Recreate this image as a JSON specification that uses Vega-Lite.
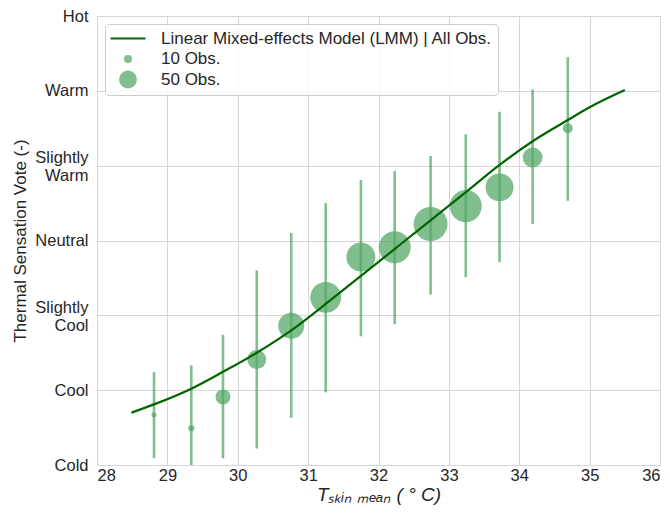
{
  "$schema": "https://vega.github.io/schema/vega-lite/v6.json",
  "width": 563,
  "height": 449,
  "autosize": "none",
  "padding": {"left": 97, "top": 16, "right": 10, "bottom": 50},
  "background": "white",
  "config": {
    "font": "Liberation Sans",
    "view": {"stroke": "#cccccc", "strokeWidth": 1},
    "axis": {
      "grid": true,
      "gridColor": "#d6d6d6",
      "gridWidth": 1,
      "domain": false,
      "ticks": false,
      "labelFont": "Liberation Sans",
      "labelFontSize": 16.5,
      "labelColor": "#262626",
      "titleFont": "Liberation Sans",
      "titleFontSize": 17,
      "titleFontWeight": "normal",
      "titleColor": "#262626"
    }
  },
  "datasets": {
    "obs": [
      {"t": 28.81, "tsv": -2.33, "lo": -2.91, "hi": -1.76, "n": 4},
      {"t": 29.34, "tsv": -2.51, "lo": -3.0, "hi": -1.67, "n": 6},
      {"t": 29.79, "tsv": -2.09, "lo": -2.91, "hi": -1.26, "n": 35},
      {"t": 30.27, "tsv": -1.59, "lo": -2.78, "hi": -0.4, "n": 56},
      {"t": 30.76, "tsv": -1.14, "lo": -2.37, "hi": 0.1, "n": 106},
      {"t": 31.25, "tsv": -0.76, "lo": -2.03, "hi": 0.5, "n": 150},
      {"t": 31.75, "tsv": -0.22, "lo": -1.28, "hi": 0.81, "n": 131},
      {"t": 32.23, "tsv": -0.09, "lo": -1.12, "hi": 0.93, "n": 160},
      {"t": 32.74, "tsv": 0.22, "lo": -0.72, "hi": 1.13, "n": 180},
      {"t": 33.24, "tsv": 0.46, "lo": -0.49, "hi": 1.42, "n": 160},
      {"t": 33.72, "tsv": 0.71, "lo": -0.29, "hi": 1.72, "n": 122},
      {"t": 34.19, "tsv": 1.11, "lo": 0.22, "hi": 2.02, "n": 62},
      {"t": 34.69, "tsv": 1.5, "lo": 0.53, "hi": 2.45, "n": 16}
    ],
    "lmm": [
      {"t": 28.49, "tsv": -2.3},
      {"t": 28.81, "tsv": -2.19},
      {"t": 29.34, "tsv": -1.98},
      {"t": 29.79, "tsv": -1.755},
      {"t": 30.27, "tsv": -1.5},
      {"t": 30.76, "tsv": -1.2},
      {"t": 31.38, "tsv": -0.75},
      {"t": 32.05, "tsv": -0.25},
      {"t": 32.3, "tsv": -0.06},
      {"t": 32.74, "tsv": 0.27},
      {"t": 33.26, "tsv": 0.66},
      {"t": 33.72, "tsv": 1.01},
      {"t": 34.18, "tsv": 1.32},
      {"t": 34.69, "tsv": 1.61},
      {"t": 35.0, "tsv": 1.78},
      {"t": 35.5, "tsv": 2.01}
    ]
  },
  "encoding": {
    "x": {
      "field": "t",
      "type": "quantitative",
      "scale": {"domain": [28, 36], "nice": false},
      "axis": {
        "values": [28, 29, 30, 31, 32, 33, 34, 35, 36],
        "labelPadding": 2,
        "title": "Tₛₖᵢₙ ₘₑₐₙ ( ° C)",
        "titleFontStyle": "italic",
        "titleFontSize": 19,
        "titlePadding": 2
      }
    },
    "y": {
      "field": "tsv",
      "type": "quantitative",
      "scale": {"domain": [-3, 3], "nice": false},
      "axis": {
        "values": [-3, -2, -1, 0, 1, 2, 3],
        "labelPadding": 9,
        "labelLineHeight": 18,
        "labelOffset": {"condition": {"test": "datum.value == 1 || datum.value == -1", "value": -8}, "value": 0},
        "labelExpr": "datum.value == 3 ? 'Hot' : datum.value == 2 ? 'Warm' : datum.value == 1 ? ['Slightly', 'Warm'] : datum.value == 0 ? 'Neutral' : datum.value == -1 ? ['Slightly', 'Cool'] : datum.value == -2 ? 'Cool' : 'Cold'",
        "title": "Thermal Sensation Vote (-)",
        "titlePadding": 5
      }
    }
  },
  "layer": [
    {
      "data": {"name": "obs"},
      "mark": {"type": "rule", "color": "#55a868", "opacity": 0.75, "strokeWidth": 2.6},
      "encoding": {
        "y": {"field": "lo", "type": "quantitative"},
        "y2": {"field": "hi"}
      }
    },
    {
      "data": {"name": "obs"},
      "mark": {"type": "circle", "color": "#55a868", "opacity": 0.75},
      "encoding": {
        "size": {
          "field": "n",
          "type": "quantitative",
          "scale": {"domain": [0, 100], "range": [0, 640], "zero": true},
          "legend": null
        }
      }
    },
    {
      "data": {"name": "lmm"},
      "mark": {"type": "line", "strokeWidth": 2.2, "interpolate": "monotone"},
      "encoding": {
        "color": {
          "datum": "Linear Mixed-effects Model (LMM) | All Obs.",
          "type": "nominal",
          "scale": {
            "domain": ["Linear Mixed-effects Model (LMM) | All Obs.", "10 Obs.", "50 Obs."],
            "range": ["#006400", "#55a868", "#55a868"]
          },
          "legend": {
            "title": null,
            "orient": "none",
            "legendX": 8,
            "legendY": 8,
            "padding": 6,
            "fillColor": "rgba(255,255,255,0.85)",
            "strokeColor": "#cccccc",
            "cornerRadius": 4,
            "labelFont": "Liberation Sans",
            "labelFontSize": 17,
            "labelColor": "#262626",
            "labelLimit": 500,
            "symbolSize": 100,
            "symbolOffset": 8.5,
            "labelOffset": 24.5,
            "rowPadding": 2.5,
            "encode": {
              "symbols": {
                "update": {
                  "shape": {"signal": "datum.value == '10 Obs.' || datum.value == '50 Obs.' ? 'circle' : 'M-3.5,0L3.5,0'"},
                  "size": {"signal": "datum.value == '10 Obs.' ? 64 : datum.value == '50 Obs.' ? 320 : 100"},
                  "fill": {"signal": "datum.value == '10 Obs.' || datum.value == '50 Obs.' ? '#55a868' : 'transparent'"},
                  "stroke": {"signal": "datum.value == '10 Obs.' || datum.value == '50 Obs.' ? 'transparent' : '#006400'"},
                  "strokeWidth": {"signal": "datum.value == '10 Obs.' || datum.value == '50 Obs.' ? 0 : 2.2"},
                  "opacity": {"value": 1},
                  "fillOpacity": {"value": 0.75}
                }
              }
            }
          }
        }
      }
    }
  ]
}
